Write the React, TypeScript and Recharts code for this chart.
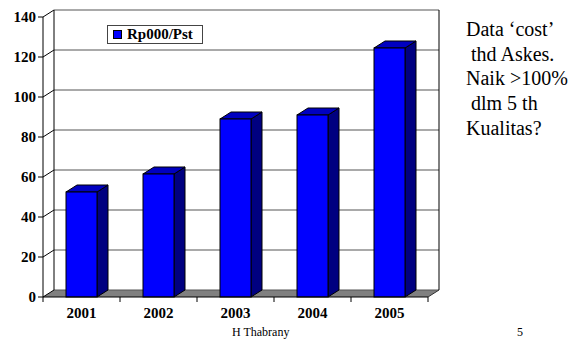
import React from 'react';
import { BarChart, Bar, XAxis, YAxis, CartesianGrid, Legend } from 'recharts';

const years = ['2001', '2002', '2003', '2004', '2005'];
const costValues = [52.5, 61.5, 89, 91, 124.5];
const yTicks = [0, 20, 40, 60, 80, 100, 120, 140];
const seriesName = 'Rp000/Pst';
const noteLines = ['Data \u2018cost\u2019', ' thd Askes.', 'Naik >100%', ' dlm 5 th', 'Kualitas?'];
const footerText = 'H Thabrany';
const pageNumber = '5';

const data = years.map((year, i) => ({ year, value: costValues[i] }));

const DX = 11;
const DY = 7;
const SERIF = "'Liberation Serif', serif";

function Bar3D(props: any) {
  const { x, y, width, height } = props;
  if (x == null || y == null || !width || height == null) return null;
  const top = `${x},${y} ${x + DX},${y - DY} ${x + width + DX},${y - DY} ${x + width},${y}`;
  const side = `${x + width},${y} ${x + width + DX},${y - DY} ${x + width + DX},${y + height - DY} ${x + width},${y + height}`;
  return (
    <g>
      <polygon points={side} fill="#000080" stroke="#000" strokeWidth={1} />
      <polygon points={top} fill="#0000C0" stroke="#000" strokeWidth={1} />
      <rect x={x} y={y} width={width} height={height} fill="#0000FF" stroke="#000" strokeWidth={1} />
    </g>
  );
}

function GridLine(props: any) {
  const { x1, y1, x2, index } = props;
  const pts: number[] = props.horizontalPoints || [];
  const maxY = pts.length ? Math.max(...pts) : y1;
  const minY = pts.length ? Math.min(...pts) : y1;
  const isBottom = Math.abs(y1 - maxY) < 0.5;
  const isTop = Math.abs(y1 - minY) < 0.5;
  const n = years.length;
  return (
    <g key={`gl-${index}`}>
      {isBottom && (
        <polygon
          points={`${x1},${y1} ${x2},${y1} ${x2 + DX},${y1 - DY} ${x1 + DX},${y1 - DY}`}
          fill="#808080"
          stroke="none"
        />
      )}
      <line x1={x1 + DX} y1={y1 - DY} x2={x2 + DX} y2={y1 - DY} stroke="#555" strokeWidth={1} />
      <line x1={x1} y1={y1} x2={x1 + DX} y2={y1 - DY} stroke="#000" strokeWidth={1} />
      {isTop && (
        <g>
          <line x1={x1 + DX} y1={minY - DY} x2={x1 + DX} y2={maxY - DY} stroke="#000" strokeWidth={1} />
          <line x1={x2 + DX} y1={minY - DY} x2={x2 + DX} y2={maxY - DY} stroke="#000" strokeWidth={1} />
        </g>
      )}
      {isBottom && (
        <g>
          <line x1={x2} y1={y1} x2={x2 + DX} y2={y1 - DY} stroke="#333" strokeWidth={1} />
          {Array.from({ length: n + 1 }).map((_, i) => {
            const tx = x1 + (i * (x2 - x1)) / n;
            return <line key={`t-${i}`} x1={tx} y1={y1} x2={tx} y2={y1 + 5} stroke="#000" strokeWidth={1} />;
          })}
        </g>
      )}
    </g>
  );
}

function LegendBox(props: any) {
  const label = props?.payload?.[0]?.value ?? seriesName;
  return (
    <div
      style={{
        display: 'inline-flex',
        alignItems: 'center',
        boxSizing: 'border-box',
        border: '1px solid #444',
        background: '#fff',
        height: 19,
        padding: '0 9px 0 5px',
        fontFamily: SERIF,
        fontWeight: 'bold',
        fontSize: 15,
        color: '#000',
        lineHeight: '17px',
      }}
    >
      <span
        style={{
          display: 'inline-block',
          boxSizing: 'border-box',
          width: 9,
          height: 9,
          background: '#0000FF',
          border: '1px solid #000',
          marginRight: 5,
        }}
      />
      <span>{label}</span>
    </div>
  );
}

export default function App() {
  return (
    <div style={{ position: 'absolute', left: 0, top: 0, width: 574, height: 339, background: '#fff' }}>
      <BarChart
        width={574}
        height={339}
        data={data}
        margin={{ top: 17, right: 146, bottom: 12, left: 3 }}
        barSize={31}
      >
        <CartesianGrid vertical={false} horizontal={GridLine as any} />
        <XAxis
          dataKey="year"
          height={30}
          tickLine={false}
          axisLine={{ stroke: '#000' }}
          tickMargin={4}
          tick={{ fill: '#000', fontFamily: SERIF, fontWeight: 'bold', fontSize: 15 }}
          interval={0}
        />
        <YAxis
          width={40}
          domain={[0, 140]}
          ticks={yTicks}
          interval={0}
          tickSize={5}
          tickMargin={2}
          axisLine={{ stroke: '#000' }}
          tickLine={{ stroke: '#000' }}
          tick={{ fill: '#000', fontFamily: SERIF, fontWeight: 'bold', fontSize: 15 }}
        />
        <Legend
          layout="vertical"
          align="center"
          verticalAlign="middle"
          content={(p: any) => <LegendBox {...p} />}
          wrapperStyle={{ position: 'absolute', left: 107, top: 25, width: 'auto', height: 'auto' }}
        />
        <Bar dataKey="value" name={seriesName} shape={Bar3D} isAnimationActive={false} />
      </BarChart>
      <div
        style={{
          position: 'absolute',
          left: 466,
          top: 17,
          fontFamily: SERIF,
          fontSize: 20,
          lineHeight: '24.7px',
          whiteSpace: 'pre',
          color: '#000',
        }}
      >
        {noteLines.map((t, i) => (
          <div key={i}>{t}</div>
        ))}
      </div>
      <div
        style={{
          position: 'absolute',
          left: 232,
          top: 325,
          fontFamily: SERIF,
          fontSize: 12,
          lineHeight: '14px',
          whiteSpace: 'pre',
          color: '#000',
        }}
      >
        {footerText}
      </div>
      <div
        style={{
          position: 'absolute',
          left: 517,
          top: 325,
          fontFamily: SERIF,
          fontSize: 12,
          lineHeight: '14px',
          color: '#000',
        }}
      >
        {pageNumber}
      </div>
    </div>
  );
}
